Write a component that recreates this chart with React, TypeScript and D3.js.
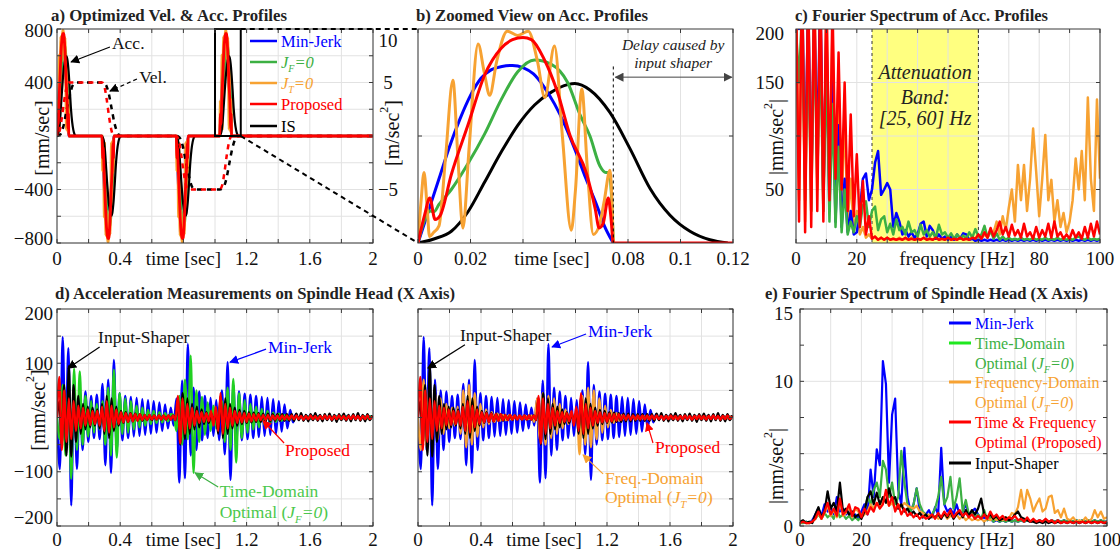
import React from "react";
import * as d3 from "d3";

// ================= DATA =================
// Panel b: one acceleration pulse [m/sec^2] as (time [s], value) key points
const pulseMinJerk: [number, number][] = [[0,0],[0.004,1.5],[0.008,3.0],[0.012,4.5],[0.016,5.8],[0.02,6.9],[0.024,7.7],[0.028,8.1],[0.032,8.25],[0.036,8.3],[0.04,8.2],[0.044,7.9],[0.048,7.3],[0.052,6.5],[0.056,5.5],[0.06,4.3],[0.064,3.0],[0.068,1.8],[0.071,0.8],[0.0744,0]];
const pulseTimeOpt: [number, number][] = [[0,0],[0.002,0.9],[0.0045,1.5],[0.006,1.45],[0.008,1.8],[0.0127,2.5],[0.019,3.7],[0.0254,5.1],[0.0317,6.7],[0.038,8.0],[0.0444,8.55],[0.0508,8.35],[0.057,7.5],[0.0617,6.0],[0.0655,5.0],[0.0693,3.6],[0.0715,3.3],[0.0728,3.3],[0.0738,2.0],[0.0744,0]];
const pulseFreqOpt: [number, number][] = [[0,0],[0.0012,2.0],[0.0023,3.3],[0.0034,1.8],[0.0044,0.3],[0.006,0.5],[0.008,0.8],[0.0105,4.0],[0.0133,7.6],[0.0152,4.0],[0.0171,0.7],[0.0195,4.5],[0.0229,9.3],[0.0252,8.0],[0.0273,6.9],[0.03,8.5],[0.034,9.9],[0.038,9.7],[0.042,9.9],[0.0455,8.5],[0.0483,6.8],[0.052,9.2],[0.055,5.0],[0.0584,0.6],[0.06,2.5],[0.0624,7.2],[0.0645,3.5],[0.0668,0.4],[0.069,0.8],[0.071,2.0],[0.0731,3.4],[0.0744,0]];
const pulseProposed: [number, number][] = [[0,0],[0.0025,1.3],[0.0045,2.1],[0.0065,1.1],[0.0085,1.3],[0.0127,3.2],[0.019,5.5],[0.0254,7.85],[0.0317,9.1],[0.036,9.5],[0.04,9.6],[0.0432,9.5],[0.048,8.6],[0.053,7.1],[0.058,5.0],[0.0643,3.2],[0.0675,1.6],[0.069,0.7],[0.0705,0.9],[0.0725,2.1],[0.0735,1.2],[0.0744,0]];
const pulseIS: [number, number][] = [[0,0],[0.0063,0.2],[0.0127,0.55],[0.019,1.45],[0.0254,2.85],[0.0317,4.25],[0.038,5.5],[0.0444,6.45],[0.0508,7.05],[0.057,7.4],[0.0598,7.45],[0.0655,7.15],[0.0731,6.1],[0.0808,4.4],[0.0884,2.55],[0.096,1.3],[0.1036,0.55],[0.1112,0.15],[0.118,0]];

// Panel a: pulse start times [s] and directions
const pulseStarts = [0, 0.285, 0.755, 1.03];
const pulseSigns = [1, -1, -1, 1];
// Panel a: velocity [mm/sec]
const velProposed: [number, number][] = [[0,0],[0.015,30],[0.03,130],[0.045,260],[0.06,360],[0.0744,400],[0.285,400],[0.3,370],[0.315,270],[0.33,140],[0.345,40],[0.3594,0],[0.755,0],[0.77,-30],[0.785,-130],[0.8,-260],[0.815,-360],[0.8294,-400],[1.03,-400],[1.045,-370],[1.06,-270],[1.075,-140],[1.09,-40],[1.1044,0],[2,0]];
const velIS: [number, number][] = [[0,0],[0.02,10],[0.04,70],[0.06,190],[0.08,300],[0.1,380],[0.12,400],[0.285,400],[0.305,390],[0.325,330],[0.345,210],[0.365,90],[0.385,20],[0.405,0],[0.755,0],[0.775,-10],[0.795,-70],[0.815,-190],[0.835,-300],[0.855,-380],[0.875,-400],[1.03,-400],[1.05,-390],[1.07,-330],[1.09,-210],[1.11,-90],[1.13,-20],[1.15,0],[2,0]];

// Panel d: measured acceleration [mm/sec^2]
const dtSlow = 0.018;
const dMinJerk = [0,-95,148,-60,128,-162,70,-95,50,-60, 48,-45,40,-38,42,-40,62,-88,70,-102, 106,-60,45,-42,40,-38,38,-35,36,-34, 34,-32,32,-30,30,-28,28,-25,24,-20, 18,-15,35,-120,68,-112,135,-70,55,-60, 48,-42,40,-38,36,-34,32,-42,50,-68, 102,-115,60,-50,48,-42,44,-40,42,-38, 40,-36,38,-34,36,-32,34,-30,30,-26, 24,-20,14,-9,6,-4,4,-3,3,-3, 3,-2,3,-2,2,-3,2,-2,3,-2, 2,-2,3,-2,2,-2,3,-2,2,-2, 2,0];
const dTimeOpt = [0,-40,60,-70,55,-113,90,-60,85,-50, 40,-35,30,-28,25,-22,30,-50,55,-70, 88,-74,45,-30,35,-28,30,-22,22,-18, 18,-15,14,-12,12,-10,10,-9,8,-7, 6,5,-25,40,-50,70,-40,114,-102,50, -45,38,-32,28,-25,22,-20,15,30,-45, 55,-60,71,-83,45,-38,32,-28,25,-22, 20,-18,16,-14,12,-10,9,-8,7,-6, 5,-4,3,-3,2,-2,2,-2,2,-2, 2,-2,2,-2,2,-2,2,-2,2,-2, 2,-2,2,-2,2,-2,2,-2,2,-2, 2,0];
const dFreqOpt = [0,-60,70,-55,60,-50,45,-40,35,-30, 25,-20,18,-15,20,-30,50,-55,60,-50, 45,-35,25,-18,15,-12,10,-8,7,-6, 5,-5,4,-4,4,-3,3,-3,3,-3, 4,-8,35,-40,45,-50,40,-38,35,-30, 25,-20,15,-12,10,-8,15,-68,40,-50, 55,-55,50,-40,35,-28,22,-18,14,-10, 8,-6,5,-4,4,-3,3,-3,2,-2, 2,-2,2,-2,2,-2,2,-2,2,-2, 2,-2,2,-2,2,-2,2,-2,2,-2, 2,-2,2,-2,2,-2,2,-2,2,-2, 2,0];
const dtFast = 0.015;
const dIS = [0,30,-50,60,-70,95,-72,60,-45,40, -30,25,-22,20,-18,18,-15,15,-20,25, -30,40,-38,35,-25,20,-15,12,-10,10, -8,8,-7,7,-6,6,-6,5,-5,5, -5,4,-4,4,-4,4,-4,4,-4,4, -5,35,-50,45,-40,35,-30,25,-22,20, -18,15,-12,10,-10,8,-8,10,-30,40, -38,35,-30,25,-20,18,-15,14,-12,12, -10,10,-9,9,-8,8,-8,7,-7,7, -7,6,-6,6,-6,6,-6,6,-6,6, -6,7,-5,8,-6,5,-7,6,-5,8, -6,5,-7,6,-5,7,-6,5,-8,6, -5,7,-6,5,-7,6,-5,8,-6,5, -7,6,-5,4];
const dProposed = [0,75,-60,50,-45,35,-40,30,-25,22, -20,18,-15,15,-14,12,-12,12,-15,20, -25,30,-28,22,-18,15,-12,10,-9,8, -8,7,-7,6,-6,6,-5,5,-5,5, -4,4,-4,4,-4,4,-4,4,-4,4, -5,40,-48,35,-30,25,-20,18,-15,12, -10,10,-8,8,-7,12,-15,20,-25,45, -30,25,-20,18,-15,12,-10,10,-9,8, -8,7,-7,6,-6,6,-5,5,-5,5, -5,4,-4,4,-4,4,-4,4,-4,4, -3,4,-3,3,-4,3,-3,4,-3,3, -4,3,-3,4,-3,3,-4,3,-3,4, -3,3,-4,3,-3,4,-3,3,-4,3, -3,4,-3,2];

// Panel c: spectrum of acceleration profiles, 1 Hz bins 0..100
const fStep = 1;
const cMinJerk = [250,200,240,60,230,50,220,80,240,40, 200,30,160,20,110,15,60,10,30,8, 10,30,60,65,40,50,75,86,45,50, 56,50,15,28,20,8,12,6,10,5, 8,18,20,6,16,12,4,8,4,6, 3,6,3,8,4,9,8,3,4,2, 3,2,3,2,3,2,3,2,3,2, 3,2,3,2,3,2,3,2,3,2, 3,2,3,2,3,2,3,2,3,2, 3,2,3,2,3,2,3,2,3,2, 3];
const cTimeOpt = [200,150,220,40,200,30,210,60,190,30, 170,20,130,15,90,10,50,8,20,10, 25,15,35,39,15,30,34,12,22,25, 10,18,8,22,12,15,8,20,10,12, 6,17,8,12,6,10,5,17,8,10, 5,9,4,8,4,7,4,10,5,13, 6,8,16,5,12,4,9,3,6,3, 5,3,4,3,5,3,4,3,5,3, 4,3,5,3,4,3,5,3,4,3, 4,3,5,6,4,3,5,3,4,3, 4];
const cFreqOpt = [230,40,250,20,240,30,245,50,235,30, 220,50,200,40,160,30,120,20,60,10, 30,8,15,5,8,4,6,3,5,3, 5,3,4,3,5,3,4,3,5,3, 4,3,5,3,4,3,5,3,4,3, 5,3,4,3,5,3,4,3,5,4, 6,4,8,5,10,10,20,8,25,12, 33,50,20,73,40,73,30,60,107,67, 25,60,101,40,59,20,40,15,28,10, 20,40,79,50,86,40,136,60,30,134, 60];
const cProposed = [240,20,260,10,250,15,255,30,250,20, 245,40,225,60,178,50,150,30,120,25, 83,15,58,8,25,4,6,3,5,3, 5,3,4,3,4,3,5,3,4,3, 4,3,5,3,4,3,5,3,4,3, 5,3,4,3,5,3,4,3,5,4, 8,4,10,5,14,6,12,20,8,15, 6,17,7,12,5,18,6,10,4,15, 5,12,6,18,5,20,6,10,4,8, 4,12,5,10,4,15,5,18,6,20, 8];
const attenuationBand = [25, 60];

// Panel e: spectrum of spindle head acceleration, 1 Hz bins 0..100
const eMinJerk = [0.3,0.2,0.3,0.2,0.4,0.8,1.2,0.7,1.5,1.0, 1.3,0.8,2.0,1.0,1.2,0.8,1.0,0.6,0.8,0.5, 1.0,1.5,0.8,3.9,2.0,5.3,4.2,11.4,9.8,3.0, 7.7,8.8,2.5,1.5,5.4,2.0,1.0,1.5,2.6,1.0, 0.6,0.8,1.1,0.6,1.3,0.8,5.4,1.5,1.0,1.2, 0.8,1.5,0.8,1.0,1.5,0.8,1.0,1.2,0.8,0.5, 0.6,0.4,0.5,0.3,0.4,0.3,0.4,0.3,0.4,0.3, 0.4,0.3,0.4,0.3,0.4,0.3,0.4,0.3,0.4,0.3, 0.4,0.3,0.4,0.3,0.4,0.3,0.4,0.3,0.4,0.3, 0.4,0.3,0.4,0.3,0.4,0.3,0.4,0.3,0.4,0.3, 0.3];
const eTimeOpt = [0.2,0.2,0.3,0.2,0.3,0.5,0.8,0.5,0.9,0.6, 0.8,0.5,1.2,0.6,0.8,0.5,0.7,0.4,0.6,0.4, 0.8,1.0,2.0,1.5,2.5,3.0,2.0,4.5,3.9,2.0, 3.0,1.5,2.0,5.2,3.0,1.5,1.0,1.5,2.6,1.5, 1.0,0.8,0.6,0.8,1.2,2.0,3.4,1.5,2.0,3.4, 1.2,2.0,3.3,1.0,1.8,0.8,1.0,0.6,0.8,0.5, 1.1,0.4,0.6,0.3,0.5,0.3,0.4,0.3,0.4,0.3, 0.4,0.3,0.4,0.3,0.4,0.3,0.4,0.3,0.4,0.3, 0.4,0.3,0.4,0.3,0.4,0.3,0.4,0.3,0.4,0.3, 0.4,0.3,0.4,0.3,0.4,0.3,0.4,0.3,0.4,0.3, 0.3];
const eFreqOpt = [0.2,0.3,0.2,0.2,0.3,0.5,0.9,0.5,0.9,1.4, 0.7,1.1,0.6,1.7,0.7,0.9,1.3,0.6,1.2,1.0, 0.6,0.8,1.0,1.5,1.2,1.6,1.3,2.0,1.8,1.4, 1.6,1.2,1.5,1.3,1.6,1.4,1.3,1.2,1.4,1.0, 0.9,0.7,0.8,0.6,0.7,0.5,0.6,0.8,0.5,0.7, 0.6,0.8,0.5,0.7,0.4,0.6,0.4,0.5,0.4,0.5, 0.3,0.5,0.4,0.6,0.4,0.5,0.4,0.6,0.5,0.9, 0.8,1.3,2.5,1.2,2.5,1.9,1.0,1.5,1.9,1.0, 1.2,2.0,2.1,0.9,1.1,0.6,1.2,0.5,0.4,0.6, 0.3,0.4,0.3,0.6,0.3,0.5,1.1,0.6,1.0,0.5, 0.6];
const eIS = [0.3,0.4,0.2,0.3,0.2,0.8,1.3,0.6,1.0,2.4, 1.2,1.6,1.0,3.0,1.0,1.2,0.8,1.0,0.6,0.8, 0.5,1.0,2.0,2.4,1.5,2.3,1.5,2.0,1.6,2.6, 1.8,2.0,1.2,1.5,1.0,1.2,0.8,1.0,0.7,0.9, 0.6,0.8,0.5,0.7,0.6,0.8,0.5,0.9,0.6,1.0, 0.5,0.8,1.0,0.6,1.1,0.7,1.1,0.8,1.2,1.9, 0.8,0.6,0.8,0.5,0.7,0.4,0.5,0.6,0.4,0.5, 0.8,1.0,0.6,0.5,0.4,0.3,0.3,0.2,0.3,0.2, 0.3,0.2,0.3,0.2,0.3,0.2,0.3,0.2,0.3,0.2, 0.3,0.2,0.3,0.2,0.3,0.2,0.3,0.2,0.3,0.2, 0.2];
const eProposed = [0.2,0.3,0.2,0.2,0.3,0.5,1.0,0.5,1.0,1.6, 0.8,1.2,0.7,1.9,0.8,1.0,1.5,0.7,1.3,1.2, 0.6,1.2,0.8,1.3,1.0,1.6,1.2,1.5,2.5,1.4, 2.0,1.0,1.5,0.8,1.2,0.7,0.9,0.6,0.8,0.5, 0.7,0.5,0.6,0.8,0.5,0.9,0.6,1.0,0.7,1.1, 0.6,0.9,1.1,0.7,0.9,0.6,0.8,0.5,0.7,0.5, 0.8,0.5,1.0,0.6,0.8,0.5,0.7,0.4,0.6,0.5, 0.7,0.4,0.5,0.3,0.6,0.3,0.5,0.3,0.4,0.3, 0.5,0.3,0.4,0.2,0.4,0.2,0.3,0.2,0.3,0.2, 0.3,0.2,0.3,0.2,0.3,0.2,0.3,0.2,0.3,0.2, 0.3];

// Tick labels
const timeTickLabels = [0, 0.4, 1.2, 1.6, 2];
const zoomTickLabels = [0, 0.02, 0.08, 0.1, 0.12];
const freqTickLabels = [0, 20, 80, 100];
const velTickLabels = [800, 400, -400, -800];
const accTickLabels = [10, 5, -5];
const specATickLabels = [200, 150, 50];
const measTickLabels = [200, 100, -100, -200];
const specETickLabels = [15, 10, 0];

// ================= STYLE / LAYOUT =================
const FONT = "Liberation Serif, DejaVu Serif, serif";
const COL = { blue: "#0000ff", green: "#3cb043", dgreen: "#22d022", lime: "#1fe81f", orange: "#f7a232", red: "#ff0000", black: "#000000" };
const PA = { x0: 57, x1: 373, y0: 29, y1: 243 };
const PB = { x0: 418, x1: 733, y0: 29, y1: 243 };
const PC = { x0: 796, x1: 1100, y0: 29, y1: 243 };
const PD1 = { x0: 57, x1: 373, y0: 309, y1: 526 };
const PD2 = { x0: 418, x1: 733, y0: 309, y1: 526 };
const PE = { x0: 800, x1: 1107, y0: 309, y1: 526 };

type Pt = [number, number];
const fmt = d3.format("~g");

function Grid({ x, y, gx, gy }: any) {
  const [x0, x1] = x.range();
  const [yb, yt] = y.range();
  return (
    <g stroke="#e2e2e2" strokeWidth={1}>
      {gx.map((v: number, i: number) => <line key={"gx" + i} x1={x(v)} x2={x(v)} y1={yt} y2={yb} />)}
      {gy.map((v: number, i: number) => <line key={"gy" + i} x1={x0} x2={x1} y1={y(v)} y2={y(v)} />)}
    </g>
  );
}
function Box({ x, y, tx, ty }: any) {
  const [x0, x1] = x.range();
  const [yb, yt] = y.range();
  const L = 4;
  return (
    <g stroke="#3a3a3a" strokeWidth={1} fill="none">
      {tx.map((v: number, i: number) => (
        <g key={"tx" + i}>
          <line x1={x(v)} x2={x(v)} y1={yb} y2={yb - L} />
          <line x1={x(v)} x2={x(v)} y1={yt} y2={yt + L} />
        </g>
      ))}
      {ty.map((v: number, i: number) => (
        <g key={"ty" + i}>
          <line x1={x0} x2={x0 + L} y1={y(v)} y2={y(v)} />
          <line x1={x1} x2={x1 - L} y1={y(v)} y2={y(v)} />
        </g>
      ))}
      <rect x={x0} y={yt} width={x1 - x0} height={yb - yt} />
    </g>
  );
}
function T({ children, style, ...p }: any) {
  return <text style={{ fontFamily: FONT, ...(style || {}) }} {...p}>{children}</text>;
}
function Sub({ j, s, rest, color, size }: any) {
  return (
    <tspan fill={color} fontStyle="italic">
      {j}
      <tspan fontSize={size * 0.62} dy={size * 0.28}>{s}</tspan>
      <tspan dy={-size * 0.28}>{rest}</tspan>
    </tspan>
  );
}

function mkLine(x: any, y: any, curve: any) {
  return d3.line<Pt>().x((d) => x(d[0])).y((d) => y(d[1])).curve(curve);
}
const series = (arr: number[], step: number): Pt[] => arr.map((v, i) => [i * step, v] as Pt);
function train(p: Pt[]): Pt[] {
  const pts: Pt[] = [];
  pulseStarts.forEach((s, k) => p.forEach(([t, v]) => pts.push([s + t, pulseSigns[k] * v])));
  pts.push([2, 0]);
  return pts;
}

export default function App() {
  const xA = d3.scaleLinear().domain([0, 2]).range([PA.x0, PA.x1]);
  const yA = d3.scaleLinear().domain([-800, 800]).range([PA.y1, PA.y0]);
  const yAr = d3.scaleLinear().domain([-10, 10]).range([PA.y1, PA.y0]);
  const xB = d3.scaleLinear().domain([0, 0.12]).range([PB.x0, PB.x1]);
  const yB = d3.scaleLinear().domain([0, 10]).range([PB.y1, PB.y0]);
  const xC = d3.scaleLinear().domain([0, 100]).range([PC.x0, PC.x1]);
  const yC = d3.scaleLinear().domain([0, 200]).range([PC.y1, PC.y0]);
  const xD1 = d3.scaleLinear().domain([0, 2]).range([PD1.x0, PD1.x1]);
  const xD2 = d3.scaleLinear().domain([0, 2]).range([PD2.x0, PD2.x1]);
  const yD = d3.scaleLinear().domain([-200, 200]).range([PD1.y1, PD1.y0]);
  const xE = d3.scaleLinear().domain([0, 100]).range([PE.x0, PE.x1]);
  const yE = d3.scaleLinear().domain([0, 15]).range([PE.y1, PE.y0]);

  const mono = d3.curveMonotoneX;
  const lAacc = mkLine(xA, yAr, mono);
  const lAvel = mkLine(xA, yA, mono);
  const lB = mkLine(xB, yB, mono);
  const lC = mkLine(xC, yC, d3.curveLinear);
  const lD1 = mkLine(xD1, yD, mono);
  const lD2 = mkLine(xD2, yD, mono);
  const lE = mkLine(xE, yE, d3.curveLinear);

  const tickFs = 19;
  const annFs = 17.5;

  const xTickLabels = (x: any, vals: number[], y: number, key: string) =>
    vals.map((v, i) => (
      <T key={key + i} x={x(v)} y={y} fontSize={tickFs} textAnchor="middle" fill="#111">{fmt(v)}</T>
    ));
  const yTickLabels = (y: any, vals: number[], x: number, lo: number, hi: number, key: string, anchor = "end") =>
    vals.map((v, i) => (
      <T key={key + i} x={x} y={Math.min(Math.max(y(v), lo), hi)} fontSize={tickFs} textAnchor={anchor} dominantBaseline="central" fill="#111">{fmt(v)}</T>
    ));
  const vLabel = (cx: number, cy: number, content: any, key: string) => (
    <T key={key} transform={`translate(${cx},${cy}) rotate(-90)`} fontSize={20} textAnchor="middle" dominantBaseline="central" fill="#111">{content}</T>
  );

  const markers = [
    ["arBlack", "#000"], ["arBlue", COL.blue], ["arRed", COL.red], ["arGreen", "#3cb043"], ["arOrange", COL.orange], ["arGray", "#444"],
  ];

  const clip = (id: string, P: any) => (
    <clipPath id={id}><rect x={P.x0} y={P.y0} width={P.x1 - P.x0} height={P.y1 - P.y0} /></clipPath>
  );
  const sup2 = <tspan fontSize={12} dy={-8}>2</tspan>;

  return (
    <svg width={1120} height={553} style={{ position: "absolute", left: 0, top: 0, background: "#fff" }}>
      <defs>
        {markers.map(([id, c]) => (
          <marker key={id} id={id} viewBox="0 0 10 10" refX={9} refY={5} markerWidth={9} markerHeight={9} markerUnits="userSpaceOnUse" orient="auto-start-reverse">
            <path d="M0,0 L10,5 L0,10 z" fill={c} />
          </marker>
        ))}
        {clip("clA", PA)}{clip("clB", PB)}{clip("clC", PC)}{clip("clD1", PD1)}{clip("clD2", PD2)}{clip("clE", PE)}
      </defs>
      <rect x={0} y={0} width={1120} height={553} fill="#fff" />

      {/* ================= Panel a ================= */}
      <T x={51} y={21} fontSize={16} fontWeight="bold" fill="#222" textLength={236} lengthAdjust="spacingAndGlyphs">a) Optimized Vel. &amp; Acc. Profiles</T>
      <Grid x={xA} y={yA} gx={xA.ticks(10)} gy={yA.ticks(8)} />
      <g clipPath="url(#clA)" fill="none">
        <path d={lAacc(train(pulseMinJerk)) || ""} stroke={COL.blue} strokeWidth={2.5} />
        <path d={lAacc(train(pulseTimeOpt)) || ""} stroke={COL.green} strokeWidth={2.5} />
        <path d={lAacc(train(pulseFreqOpt)) || ""} stroke={COL.orange} strokeWidth={2.5} />
        <path d={lAacc(train(pulseIS)) || ""} stroke={COL.black} strokeWidth={2.2} />
        <path d={lAvel(velIS) || ""} stroke={COL.black} strokeWidth={2.5} strokeDasharray="5,5" />
        <path d={lAvel(velProposed) || ""} stroke={COL.red} strokeWidth={2.5} strokeDasharray="5,5" strokeDashoffset={5} />
        <path d={lAacc(train(pulseProposed)) || ""} stroke={COL.red} strokeWidth={2.8} />
      </g>
      <rect x={xA(1.0)} y={yA(800)} width={xA(1.163) - xA(1.0)} height={yA(0) - yA(800)} fill="none" stroke="#000" strokeWidth={2} />
      <Box x={xA} y={yA} tx={xA.ticks(10)} ty={yA.ticks(8)} />
      {xTickLabels(xA, timeTickLabels, 265, "axl")}
      <T x={xA(0.8)} y={265} fontSize={tickFs} textAnchor="middle" fill="#111">time [sec]</T>
      {yTickLabels(yA, velTickLabels, 53, PA.y0 + 1, PA.y1 - 5, "ayl")}
      {accTickLabels.map((v, i) => (
        <T key={"ayr" + i} x={388} y={Math.max(yAr(v), 40)} fontSize={tickFs} textAnchor="middle" dominantBaseline="central" fill="#111">{fmt(v)}</T>
      ))}
      {vLabel(42, 138, "[mm/sec]", "ayt")}
      {vLabel(392, 133, <>[m/sec{sup2}<tspan dy={8}>]</tspan></>, "ayrt")}
      {/* legend a */}
      {[
        { c: COL.blue, y: 41, t: <tspan fill={COL.blue}>Min-Jerk</tspan> },
        { c: COL.green, y: 62, t: <Sub j="J" s="F" rest="=0" color={COL.green} size={16} /> },
        { c: COL.orange, y: 83, t: <Sub j="J" s="T" rest="=0" color={COL.orange} size={16} /> },
        { c: COL.red, y: 104, t: <tspan fill={COL.red}>Proposed</tspan> },
        { c: COL.black, y: 126, t: <tspan fill="#000">IS</tspan> },
      ].map((d, i) => (
        <g key={"lga" + i}>
          <line x1={250} x2={277} y1={d.y} y2={d.y} stroke={d.c} strokeWidth={2.5} />
          <T x={281} y={d.y + 5.5} fontSize={16.5}>{d.t}</T>
        </g>
      ))}
      {/* annotations a */}
      <T x={xA(0.348)} y={yA(650)} fontSize={annFs} fill="#111">Acc.</T>
      <line x1={xA(0.335)} y1={yA(665)} x2={xA(0.089)} y2={yA(553)} stroke="#000" strokeWidth={1.2} markerEnd="url(#arBlack)" />
      <T x={xA(0.52)} y={yA(396)} fontSize={annFs} fill="#111">Vel.</T>
      <line x1={xA(0.506)} y1={yA(426)} x2={xA(0.335)} y2={yA(336)} stroke="#000" strokeWidth={1.2} strokeDasharray="4,3" markerEnd="url(#arBlack)" />

      {/* connectors a -> b */}
      <line x1={xA(1.163)} y1={yA(800)} x2={xB(0)} y2={yB(10)} stroke="#000" strokeWidth={2} strokeDasharray="5,4" />
      <line x1={xA(1.163)} y1={yA(0)} x2={xB(0)} y2={yB(0)} stroke="#000" strokeWidth={2} strokeDasharray="5,4" />

      {/* ================= Panel b ================= */}
      <T x={416} y={21} fontSize={16} fontWeight="bold" fill="#222" textLength={232} lengthAdjust="spacingAndGlyphs">b) Zoomed View on Acc. Profiles</T>
      <Grid x={xB} y={yB} gx={xB.ticks(6)} gy={[5]} />
      <g clipPath="url(#clB)" fill="none">
        <path d={lB(pulseIS) || ""} stroke={COL.black} strokeWidth={3} />
        <path d={lB(pulseMinJerk) || ""} stroke={COL.blue} strokeWidth={3} />
        <path d={lB(pulseTimeOpt) || ""} stroke={COL.green} strokeWidth={3} />
        <path d={lB(pulseFreqOpt) || ""} stroke={COL.orange} strokeWidth={3} />
        <path d={lB([...pulseProposed, [0.12, 0] as Pt]) || ""} stroke={COL.red} strokeWidth={3} />
      </g>
      <line x1={xB(0.0744)} x2={xB(0.0744)} y1={yB(8.25)} y2={yB(0)} stroke="#000" strokeWidth={1} strokeDasharray="3,3" />
      <line x1={xB(0.0752)} x2={xB(0.1195)} y1={yB(7.75)} y2={yB(7.75)} stroke="#444" strokeWidth={1} markerStart="url(#arGray)" markerEnd="url(#arGray)" />
      <T x={xB(0.0972)} y={yB(9.0)} fontSize={15.5} fontStyle="italic" textAnchor="middle" fill="#222">Delay caused by</T>
      <T x={xB(0.0972)} y={yB(8.2)} fontSize={15.5} fontStyle="italic" textAnchor="middle" fill="#222">input shaper</T>
      <Box x={xB} y={yB} tx={xB.ticks(6)} ty={[5]} />
      {xTickLabels(xB, zoomTickLabels, 265, "bxl")}
      <T x={xB(0.051)} y={265} fontSize={tickFs} textAnchor="middle" fill="#111">time [sec]</T>

      {/* ================= Panel c ================= */}
      <T x={795} y={21} fontSize={16} fontWeight="bold" fill="#222" textLength={253} lengthAdjust="spacingAndGlyphs">c) Fourier Spectrum of Acc. Profiles</T>
      <rect x={xC(attenuationBand[0])} y={PC.y0} width={xC(attenuationBand[1]) - xC(attenuationBand[0])} height={PC.y1 - PC.y0} fill="#ffff80" />
      <Grid x={xC} y={yC} gx={xC.ticks(10)} gy={[50, 100, 150]} />
      {attenuationBand.map((f, i) => (
        <line key={"ab" + i} x1={xC(f)} x2={xC(f)} y1={PC.y0} y2={PC.y1} stroke="#333" strokeWidth={1} strokeDasharray="3,3" />
      ))}
      <g clipPath="url(#clC)" fill="none" strokeLinejoin="round">
        <path d={lC(series(cFreqOpt, fStep)) || ""} stroke={COL.orange} strokeWidth={2.5} />
        <path d={lC(series(cMinJerk, fStep)) || ""} stroke={COL.blue} strokeWidth={2.5} />
        <path d={lC(series(cTimeOpt, fStep)) || ""} stroke={COL.green} strokeWidth={2.5} />
        <path d={lC(series(cProposed, fStep)) || ""} stroke={COL.red} strokeWidth={2.5} />
      </g>
      <T x={xC(42.5)} y={yC(153)} fontSize={20} fontStyle="italic" textAnchor="middle" fill="#222">Attenuation</T>
      <T x={xC(42.5)} y={yC(130)} fontSize={20} fontStyle="italic" textAnchor="middle" fill="#222">Band:</T>
      <T x={xC(42.5)} y={yC(110)} fontSize={20} fontStyle="italic" textAnchor="middle" fill="#222">[25, 60] Hz</T>
      <Box x={xC} y={yC} tx={xC.ticks(10)} ty={[50, 100, 150]} />
      {xTickLabels(xC, freqTickLabels, 265, "cxl")}
      <T x={xC(53)} y={265} fontSize={tickFs} textAnchor="middle" fill="#111">frequency [Hz]</T>
      {yTickLabels(yC, specATickLabels, 784, PC.y0 + 4, PC.y1, "cyl")}
      {vLabel(776, 137, <>|mm/sec{sup2}<tspan dy={8}>|</tspan></>, "cyt")}

      {/* ================= Panel d ================= */}
      <T x={55} y={299} fontSize={16} fontWeight="bold" fill="#222" textLength={400} lengthAdjust="spacingAndGlyphs">d) Acceleration Measurements on Spindle Head (X Axis)</T>
      <Grid x={xD1} y={yD} gx={xD1.ticks(10)} gy={yD.ticks(8)} />
      <Grid x={xD2} y={yD} gx={xD2.ticks(10)} gy={yD.ticks(8)} />
      <g clipPath="url(#clD1)" fill="none">
        <path d={lD1(series(dMinJerk, dtSlow)) || ""} stroke={COL.blue} strokeWidth={2.3} />
        <path d={lD1(series(dTimeOpt, dtSlow)) || ""} stroke={COL.dgreen} strokeWidth={2.3} />
        <path d={lD1(series(dIS, dtFast)) || ""} stroke={COL.black} strokeWidth={2.3} />
        <path d={lD1(series(dProposed, dtFast)) || ""} stroke={COL.red} strokeWidth={2.3} />
      </g>
      <g clipPath="url(#clD2)" fill="none">
        <path d={lD2(series(dMinJerk, dtSlow)) || ""} stroke={COL.blue} strokeWidth={2.3} />
        <path d={lD2(series(dFreqOpt, dtSlow)) || ""} stroke={COL.orange} strokeWidth={2.3} />
        <path d={lD2(series(dIS, dtFast)) || ""} stroke={COL.black} strokeWidth={2.3} />
        <path d={lD2(series(dProposed, dtFast)) || ""} stroke={COL.red} strokeWidth={2.3} />
      </g>
      <Box x={xD1} y={yD} tx={xD1.ticks(10)} ty={yD.ticks(8)} />
      <Box x={xD2} y={yD} tx={xD2.ticks(10)} ty={yD.ticks(8)} />
      {xTickLabels(xD1, timeTickLabels, 546, "d1xl")}
      <T x={xD1(0.8)} y={546} fontSize={tickFs} textAnchor="middle" fill="#111">time [sec]</T>
      {xTickLabels(xD2, timeTickLabels, 546, "d2xl")}
      <T x={xD2(0.8)} y={546} fontSize={tickFs} textAnchor="middle" fill="#111">time [sec]</T>
      {yTickLabels(yD, measTickLabels, 53, PD1.y0 + 4, PD1.y1 - 9, "dyl")}
      {vLabel(38, 410, <>[mm/sec{sup2}<tspan dy={8}>]</tspan></>, "dyt")}
      {/* annotations d left */}
      <T x={xD1(0.26)} y={yD(137)} fontSize={annFs} fill="#111">Input-Shaper</T>
      <line x1={xD1(0.27)} y1={yD(130)} x2={xD1(0.07)} y2={yD(91)} stroke="#000" strokeWidth={1.2} markerEnd="url(#arBlack)" />
      <T x={xD1(1.335)} y={yD(119)} fontSize={annFs} fill={COL.blue}>Min-Jerk</T>
      <line x1={xD1(1.323)} y1={yD(126)} x2={xD1(1.095)} y2={yD(102)} stroke={COL.blue} strokeWidth={1.2} markerEnd="url(#arBlue)" />
      <T x={xD1(1.443)} y={yD(-71)} fontSize={annFs} fill={COL.red}>Proposed</T>
      <line x1={xD1(1.437)} y1={yD(-47)} x2={xD1(1.304)} y2={yD(-6)} stroke={COL.red} strokeWidth={1.2} markerEnd="url(#arRed)" />
      <T x={xD1(1.03)} y={yD(-147)} fontSize={annFs} fill="#4cc84c">Time-Domain</T>
      <T x={xD1(1.03)} y={yD(-185)} fontSize={annFs} fill="#4cc84c">Optimal (<Sub j="J" s="F" rest="=0" color="#4cc84c" size={annFs} />)</T>
      <line x1={xD1(1.02)} y1={yD(-128)} x2={xD1(0.873)} y2={yD(-102)} stroke="#3cb043" strokeWidth={1.2} markerEnd="url(#arGreen)" />
      {/* annotations d right */}
      <T x={xD2(0.267)} y={yD(141)} fontSize={annFs} fill="#111">Input-Shaper</T>
      <line x1={xD2(0.298)} y1={yD(134)} x2={xD2(0.063)} y2={yD(91)} stroke="#000" strokeWidth={1.2} markerEnd="url(#arBlack)" />
      <T x={xD2(1.08)} y={yD(148)} fontSize={annFs} fill={COL.blue}>Min-Jerk</T>
      <line x1={xD2(1.067)} y1={yD(154)} x2={xD2(0.851)} y2={yD(130)} stroke={COL.blue} strokeWidth={1.2} markerEnd="url(#arBlue)" />
      <T x={xD2(1.505)} y={yD(-65)} fontSize={annFs} fill={COL.red}>Proposed</T>
      <line x1={xD2(1.492)} y1={yD(-47)} x2={xD2(1.454)} y2={yD(-10)} stroke={COL.red} strokeWidth={1.2} markerEnd="url(#arRed)" />
      <T x={xD2(1.187)} y={yD(-123)} fontSize={annFs} fill={COL.orange}>Freq.-Domain</T>
      <T x={xD2(1.187)} y={yD(-158)} fontSize={annFs} fill={COL.orange}>Optimal (<Sub j="J" s="T" rest="=0" color={COL.orange} size={annFs} />)</T>
      <line x1={xD2(1.175)} y1={yD(-104)} x2={xD2(1.048)} y2={yD(-69)} stroke={COL.orange} strokeWidth={1.2} markerEnd="url(#arOrange)" />

      {/* ================= Panel e ================= */}
      <T x={765} y={299} fontSize={16} fontWeight="bold" fill="#222" textLength={323} lengthAdjust="spacingAndGlyphs">e) Fourier Spectrum of Spindle Head (X Axis)</T>
      <Grid x={xE} y={yE} gx={xE.ticks(10)} gy={[5, 10]} />
      <g clipPath="url(#clE)" fill="none" strokeLinejoin="round">
        <path d={lE(series(eMinJerk, fStep)) || ""} stroke={COL.blue} strokeWidth={2.2} />
        <path d={lE(series(eTimeOpt, fStep)) || ""} stroke={COL.green} strokeWidth={2.2} />
        <path d={lE(series(eFreqOpt, fStep)) || ""} stroke={COL.orange} strokeWidth={2.2} />
        <path d={lE(series(eIS, fStep)) || ""} stroke={COL.black} strokeWidth={2.2} />
        <path d={lE(series(eProposed, fStep)) || ""} stroke={COL.red} strokeWidth={2.2} />
      </g>
      <Box x={xE} y={yE} tx={xE.ticks(10)} ty={d3.range(0, 15.01, 2.5)} />
      {xTickLabels(xE, freqTickLabels, 546, "exl")}
      <T x={xE(51)} y={546} fontSize={tickFs} textAnchor="middle" fill="#111">frequency [Hz]</T>
      {yTickLabels(yE, specETickLabels, 793, PE.y0 + 4, PE.y1, "eyl")}
      {vLabel(776, 466, <>|mm/sec{sup2}<tspan dy={8}>|</tspan></>, "eyt")}
      {/* legend e */}
      {[
        { c: COL.blue, y: 323, lines: [<tspan key="a" fill={COL.blue}>Min-Jerk</tspan>] },
        { c: COL.lime, y: 343, lines: [<tspan key="a" fill={COL.green}>Time-Domain</tspan>, <tspan key="b" fill={COL.green}>Optimal (<Sub j="J" s="F" rest="=0" color={COL.green} size={16} />)</tspan>] },
        { c: COL.orange, y: 382, lines: [<tspan key="a" fill={COL.orange}>Frequency-Domain</tspan>, <tspan key="b" fill={COL.orange}>Optimal (<Sub j="J" s="T" rest="=0" color={COL.orange} size={16} />)</tspan>] },
        { c: COL.red, y: 422, lines: [<tspan key="a" fill={COL.red}>Time &amp; Frequency</tspan>, <tspan key="b" fill={COL.red}>Optimal (Proposed)</tspan>] },
        { c: COL.black, y: 463, lines: [<tspan key="a" fill="#000">Input-Shaper</tspan>] },
      ].map((d, i) => (
        <g key={"lge" + i}>
          <line x1={949} x2={971} y1={d.y} y2={d.y} stroke={d.c} strokeWidth={3} />
          {d.lines.map((ln, j) => (
            <T key={j} x={975} y={d.y + 6 + j * 19.5} fontSize={16}>{ln}</T>
          ))}
        </g>
      ))}
    </svg>
  );
}
